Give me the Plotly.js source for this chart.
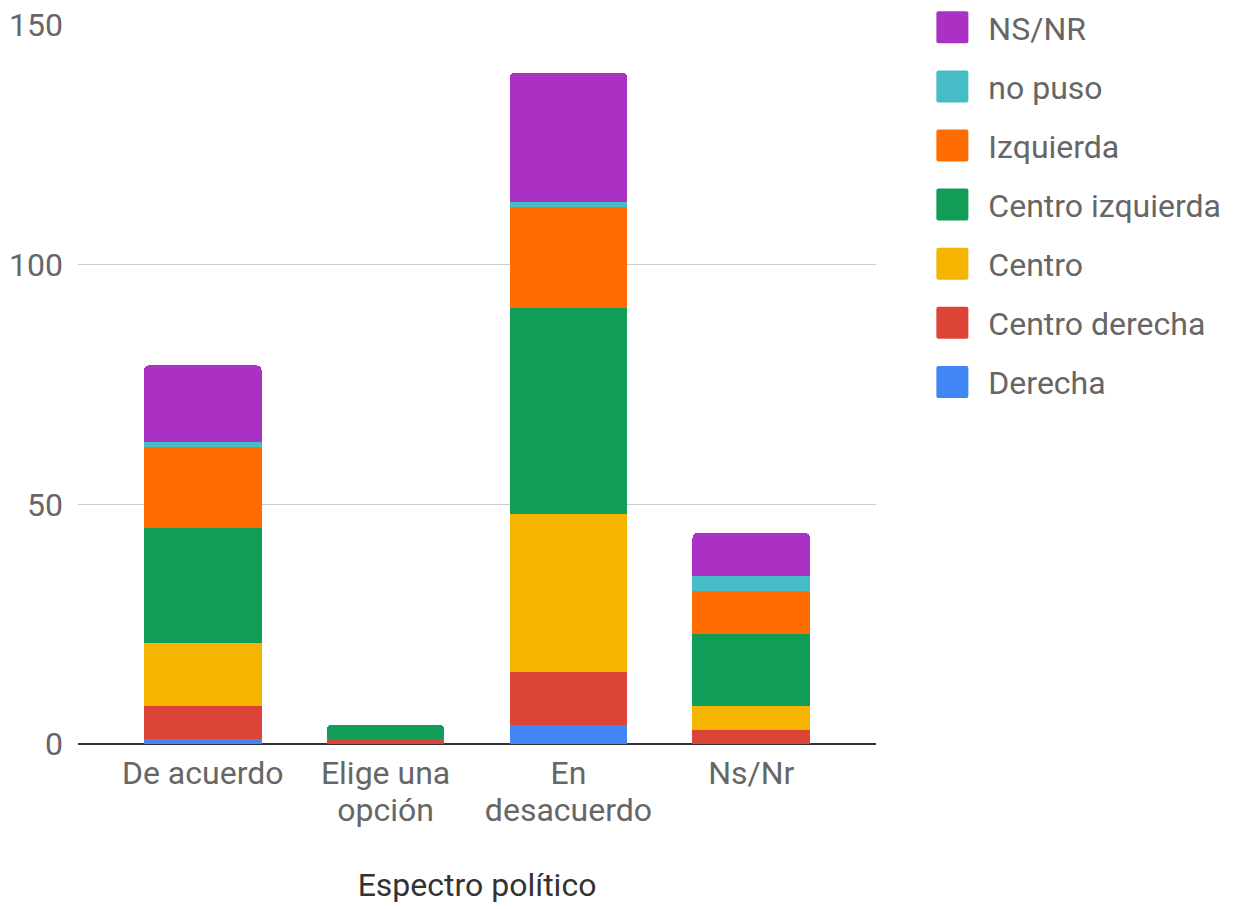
<!DOCTYPE html>
<html>
<head>
<meta charset="utf-8">
<script src="https://cdn.plot.ly/plotly-3.0.1.min.js"></script>
<style>
html,body{margin:0;padding:0;background:#fff;}
#chart{width:1234px;height:909px;}
</style>
</head>
<body>
<div id="chart"></div>
<script>
const categories = ["De acuerdo", "Elige una<br>opción", "En<br>desacuerdo", "Ns/Nr"];
const seriesNames = ["Derecha", "Centro derecha", "Centro", "Centro izquierda", "Izquierda", "no puso", "NS/NR"];
const derecha        = [1, 0, 4, 0];
const centroDerecha  = [7, 1, 11, 3];
const centro         = [13, 0, 33, 5];
const centroIzq      = [24, 3, 43, 15];
const izquierda      = [17, 0, 21, 9];
const noPuso         = [1, 0, 1, 3];
const nsnr           = [16, 0, 27, 9];
const seriesValues = [derecha, centroDerecha, centro, centroIzq, izquierda, noPuso, nsnr];
const colors = ["#4285F4", "#DB4437", "#F4B400", "#0F9D58", "#FF6D00", "#46BDC6", "#AB30C4"];
const yTicks = [0, 50, 100, 150];

const traces = seriesNames.map((name, i) => ({
  type: "bar",
  name: name,
  x: categories,
  y: seriesValues[i],
  legendgroup: "g" + i,
  legendrank: 100 - i,
  marker: {color: colors[i], line: {width: 0}},
  hoverinfo: "x+y+name"
}));

const layout = {
  width: 1234,
  height: 909,
  margin: {l: 78, r: 358, t: 25, b: 165, autoexpand: false},
  paper_bgcolor: "#fff",
  plot_bgcolor: "#fff",
  font: {family: "Roboto, sans-serif", size: 32, color: "#666"},
  barmode: "stack",
  bargap: 0.356,
  barcornerradius: 5,
  showlegend: true,
  legend: {
    xref: "container", yref: "container",
    x: 0.7426, xanchor: "left",
    y: 1.0083, yanchor: "top",
    traceorder: "grouped",
    tracegroupgap: 14.5,
    font: {size: 32, color: "#666"},
    itemwidth: 62,
    bgcolor: "rgba(0,0,0,0)"
  },
  xaxis: {
    type: "category",
    range: [-0.682, 3.682],
    showgrid: false,
    showline: false,
    zeroline: false,
    ticks: "",
    automargin: false,
    ticklabelstandoff: 7,
    tickfont: {size: 32, color: "#666"},
    title: {text: "Espectro político", font: {size: 32, color: "#333"}, standoff: 41}
  },
  yaxis: {
    range: [0, 150],
    tickvals: yTicks,
    ticktext: yTicks.map(String),
    showgrid: true,
    gridcolor: "#cccccc",
    gridwidth: 1,
    zeroline: true,
    zerolinecolor: "#333",
    zerolinewidth: 2,
    showline: false,
    ticks: "",
    automargin: false,
    ticklabelstandoff: 14,
    tickfont: {size: 32, color: "#666"}
  }
};

Plotly.newPlot("chart", traces, layout, {displayModeBar: false, staticPlot: true}).then(gd => {
  // enlarge legend swatches to match the reference's square markers
  gd.querySelectorAll(".legend .legendpoints path").forEach(p => {
    p.setAttribute("d", "M16,14A2,2 0 0 1 14,16H-14A2,2 0 0 1 -16,14V-14A2,2 0 0 1 -14,-16H14A2,2 0 0 1 16,-14Z");
  });
  // slightly tighter line spacing for the second line of multi-line category labels
  gd.querySelectorAll(".xtick text").forEach(txt => {
    const lines = txt.querySelectorAll("tspan.line");
    lines.forEach((t, i) => { if (i > 0) t.setAttribute("dy", (i * 1.17) + "em"); });
  });
});
</script>
</body>
</html>
